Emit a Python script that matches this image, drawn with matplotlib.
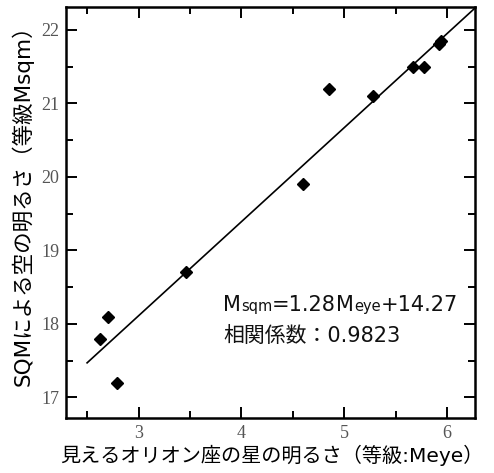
import matplotlib
matplotlib.use("Agg")
import matplotlib.pyplot as plt
from matplotlib.ticker import MultipleLocator

plt.rcParams['font.family'] = ['Noto Sans CJK JP', 'DejaVu Sans']
MIXED = ['DejaVu Sans', 'Noto Sans CJK JP']

# naked-eye magnitude of Orion stars vs SQM sky brightness
meye = [2.63, 2.70, 2.79, 3.46, 4.60, 4.85, 5.28, 5.67, 5.77, 5.92, 5.94]
msqm = [17.8, 18.1, 17.2, 18.7, 19.9, 21.2, 21.1, 21.5, 21.5, 21.80, 21.85]

slope = 1.28
intercept = 14.27
fit_x = [2.5, 6.4]
fit_y = [slope * x + intercept for x in fit_x]

eq_parts = [("M", 15), ("sqm", 10.5), ("=1.28", 15), ("M", 15), ("eye", 10.5), ("+14.27", 15)]
corr_text = "相関係数：0.9823"
xlabel = "見えるオリオン座の星の明るさ（等級:Meye）"
ylabel = "SQMによる空の明るさ（等級Msqm）"


def chain_text(ax, x, y, parts):
    # place text pieces one after another on a shared baseline
    fig = ax.figure
    renderer = fig.canvas.get_renderer()
    px, py = ax.transData.transform((x, y))
    for s, size in parts:
        t = ax.text(px, py, s, fontsize=size, va="baseline", ha="left",
                    transform=None, color="#111111", family=MIXED)
        bb = t.get_window_extent(renderer)
        px = bb.x1


fig = plt.figure(figsize=(4.94, 4.73), dpi=100)
ax = fig.add_axes([0.1336, 0.1163, 0.8279, 0.8689])

ax.plot(fit_x, fit_y, color="black", lw=1.2, clip_on=True)
ax.plot(meye, msqm, "D", color="black", markersize=6.5, ls="none")

ax.set_xlim(2.295, 6.27)
ax.set_ylim(16.72, 22.31)
ax.xaxis.set_major_locator(MultipleLocator(1))
ax.xaxis.set_minor_locator(MultipleLocator(0.5))
ax.yaxis.set_major_locator(MultipleLocator(1))
ax.yaxis.set_minor_locator(MultipleLocator(0.5))
ax.tick_params(which="both", direction="in", top=True, right=True, width=1.4,
               labelsize=13, labelcolor="#555555", pad=5)
ax.tick_params(which="major", length=8)
ax.tick_params(which="minor", length=5)
for lab in ax.get_xticklabels() + ax.get_yticklabels():
    lab.set_family("Liberation Serif")
for sp in ax.spines.values():
    sp.set_linewidth(1.8)

# axis titles placed in figure coords
fig.text(272 / 494, 1 - 455 / 473, xlabel, fontsize=14.5, family=MIXED,
         ha="center", va="center")
fig.text(22 / 494, 1 - 200 / 473, ylabel, fontsize=15.5, family=MIXED,
         ha="center", va="center", rotation=90)

fig.canvas.draw()
chain_text(ax, 3.82, 18.17, eq_parts)
ax.text(3.82, 17.75, corr_text, fontsize=15, va="baseline", ha="left",
        color="#111111", family=MIXED)

fig.savefig("out.png", dpi=100)
